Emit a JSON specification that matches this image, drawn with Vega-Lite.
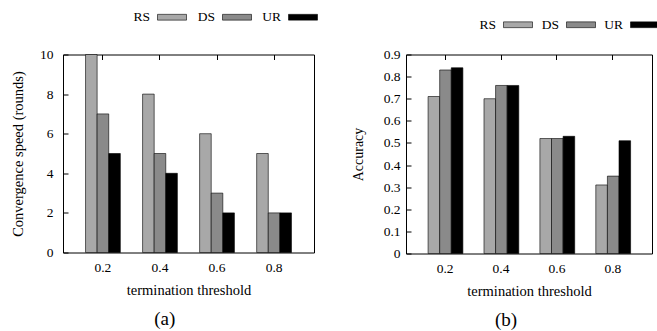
{
  "$schema": "https://vega.github.io/schema/vega-lite/v6.json",
  "padding": {"left": 10, "top": 1.5, "right": 2, "bottom": 2},
  "background": "white",
  "spacing": 30,
  "resolve": {"scale": {"color": "independent"}, "legend": {"color": "independent"}},
  "config": {
    "font": "Liberation Serif",
    "view": {"stroke": "black", "strokeWidth": 1},
    "axis": {
      "labelFont": "Liberation Serif", "titleFont": "Liberation Serif",
      "labelFontSize": 13.5, "titleFontSize": 14.5, "labelColor": "black", "titleColor": "black",
      "titleFontWeight": "normal", "grid": false, "domain": false, "tickColor": "black"
    },
    "legend": {
      "labelFont": "Liberation Serif", "labelFontSize": 13.5, "labelColor": "black"
    },
    "title": {"font": "Liberation Serif", "fontWeight": "normal", "color": "black"}
  },
  "hconcat": [
    {
      "width": 251, "height": 198,
      "title": {"text": "(a)", "orient": "bottom", "fontSize": 19, "offset": 13, "frame": "bounds"},
      "data": {"values": [
        {"threshold": "0.2", "method": "RS", "value": 10},
        {"threshold": "0.2", "method": "DS", "value": 7},
        {"threshold": "0.2", "method": "UR", "value": 5},
        {"threshold": "0.4", "method": "RS", "value": 8},
        {"threshold": "0.4", "method": "DS", "value": 5},
        {"threshold": "0.4", "method": "UR", "value": 4},
        {"threshold": "0.6", "method": "RS", "value": 6},
        {"threshold": "0.6", "method": "DS", "value": 3},
        {"threshold": "0.6", "method": "UR", "value": 2},
        {"threshold": "0.8", "method": "RS", "value": 5},
        {"threshold": "0.8", "method": "DS", "value": 2},
        {"threshold": "0.8", "method": "UR", "value": 2}
      ]},
      "resolve": {"axis": {"x": "independent"}},
      "layer": [
        {
          "mark": {"type": "bar", "stroke": "black", "strokeWidth": 0.6},
          "encoding": {
            "x": {"field": "threshold", "type": "nominal", "title": "termination threshold",
                  "scale": {"paddingInner": 0.39, "paddingOuter": 0.395},
                  "axis": {"labelAngle": 0, "ticks": false, "labelPadding": 8, "titlePadding": 9}},
            "xOffset": {"field": "method", "type": "nominal", "sort": ["RS", "DS", "UR"]},
            "y": {"field": "value", "type": "quantitative", "scale": {"domain": [0, 10]},
                  "axis": {"values": [0, 2, 4, 6, 8, 10], "title": "Convergence speed (rounds)",
                           "tickSize": -5, "labelPadding": 15, "titlePadding": 14}},
            "color": {"field": "method", "type": "nominal",
                      "scale": {"domain": ["RS", "DS", "UR"], "range": ["#a8a8a8", "#8a8a8a", "#000000"]},
                      "legend": {"orient": "none", "direction": "horizontal", "legendX": 94, "legendY": -52.5,
                                 "title": null, "symbolType": "M-1,-0.2H1V0.2H-1Z", "symbolSize": 841,
                                 "symbolStrokeColor": "black", "symbolStrokeWidth": 0.6,
                                 "labelAlign": "right", "labelOffset": -37, "columnPadding": 9}}
          }
        },
        {
          "mark": {"type": "bar", "opacity": 0, "clip": true},
          "encoding": {
            "x": {"field": "threshold", "type": "nominal",
                  "axis": {"orient": "top", "labels": false, "title": null, "tickSize": -5, "ticks": true}}
          }
        }
      ]
    },
    {
      "width": 246, "height": 199,
      "title": {"text": "(b)", "orient": "bottom", "fontSize": 19, "offset": 13, "frame": "bounds"},
      "data": {"values": [
        {"threshold": "0.2", "method": "RS", "value": 0.71},
        {"threshold": "0.2", "method": "DS", "value": 0.83},
        {"threshold": "0.2", "method": "UR", "value": 0.84},
        {"threshold": "0.4", "method": "RS", "value": 0.70},
        {"threshold": "0.4", "method": "DS", "value": 0.76},
        {"threshold": "0.4", "method": "UR", "value": 0.76},
        {"threshold": "0.6", "method": "RS", "value": 0.52},
        {"threshold": "0.6", "method": "DS", "value": 0.52},
        {"threshold": "0.6", "method": "UR", "value": 0.53},
        {"threshold": "0.8", "method": "RS", "value": 0.31},
        {"threshold": "0.8", "method": "DS", "value": 0.35},
        {"threshold": "0.8", "method": "UR", "value": 0.51}
      ]},
      "resolve": {"axis": {"x": "independent"}},
      "layer": [
        {
          "mark": {"type": "bar", "stroke": "black", "strokeWidth": 0.6},
          "encoding": {
            "x": {"field": "threshold", "type": "nominal", "title": "termination threshold",
                  "scale": {"paddingInner": 0.39, "paddingOuter": 0.395},
                  "axis": {"labelAngle": 0, "ticks": false, "labelPadding": 8, "titlePadding": 9}},
            "xOffset": {"field": "method", "type": "nominal", "sort": ["RS", "DS", "UR"]},
            "y": {"field": "value", "type": "quantitative", "scale": {"domain": [0, 0.9]},
                  "axis": {"values": [0, 0.1, 0.2, 0.3, 0.4, 0.5, 0.6, 0.7, 0.8, 0.9], "format": ".1~f", "title": "Accuracy", "titleFontSize": 14,
                           "tickSize": -5, "labelPadding": 11, "titlePadding": 18}},
            "color": {"field": "method", "type": "nominal",
                      "scale": {"domain": ["RS", "DS", "UR"], "range": ["#a8a8a8", "#8a8a8a", "#000000"]},
                      "legend": {"orient": "none", "direction": "horizontal", "legendX": 97, "legendY": -45,
                                 "title": null, "symbolType": "M-1,-0.2H1V0.2H-1Z", "symbolSize": 841,
                                 "symbolStrokeColor": "black", "symbolStrokeWidth": 0.6,
                                 "labelAlign": "right", "labelOffset": -37, "columnPadding": 7}}
          }
        },
        {
          "mark": {"type": "bar", "opacity": 0, "clip": true},
          "encoding": {
            "x": {"field": "threshold", "type": "nominal",
                  "axis": {"orient": "top", "labels": false, "title": null, "tickSize": -5, "ticks": true}}
          }
        }
      ]
    }
  ]
}
